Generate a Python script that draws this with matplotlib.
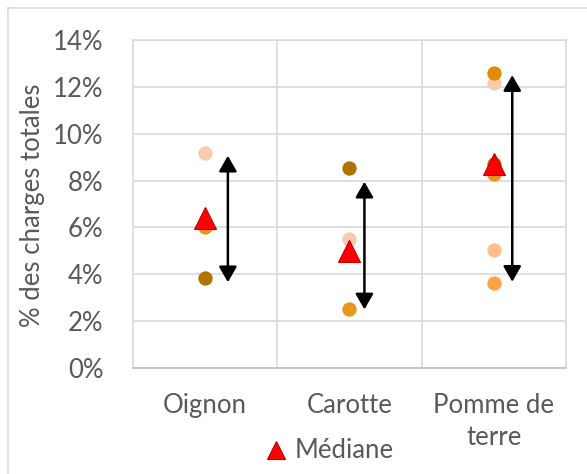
import matplotlib
matplotlib.use("Agg")
import matplotlib.pyplot as plt
from matplotlib.lines import Line2D
import numpy as np

plt.rcParams['font.family'] = ['Lato', 'DejaVu Sans']

# ---- data ----
categories = ["Oignon", "Carotte", "Pomme de\nterre"]
series_light_peach = [9.16, 5.49, 12.15]
series_orange = [6.0, 2.5, 8.28]
series_brown = [3.83, 8.52, 8.70]
series_pomme_dark_orange = [None, None, 12.58]
series_pomme_light_orange = [None, None, 5.04]
series_pomme_orange = [None, None, 3.62]
median_values = [6.42, 5.01, 8.70]
arrow_top = [9.06, 7.95, 12.50]
arrow_bottom = [3.66, 2.50, 3.68]
y_ticks = [0, 2, 4, 6, 8, 10, 12, 14]
y_tick_labels = ["0%", "2%", "4%", "6%", "8%", "10%", "12%", "14%"]
y_label = "% des charges totales"
legend_label = "Médiane"

W, H = 587, 474
FS = 18.5
fig = plt.figure(figsize=(W / 100, H / 100), dpi=100)
ax = fig.add_axes([132.5 / W, (H - 368) / H, (566 - 132.5) / W, (368 - 40) / H])

xpos = np.arange(len(categories)) + 0.5
arrow_offsets = [0.16, 0.105, 0.128]

series = [
    (series_light_peach, "#F8CBAD"),
    (series_orange, "#E8961C"),
    (series_brown, "#B37100"),
    (series_pomme_dark_orange, "#E08C00"),
    (series_pomme_light_orange, "#FFBF8C"),
    (series_pomme_orange, "#FFA343"),
]
order = [2, 0, 1, 3, 4, 5]
for idx in order:
    vals, col = series[idx]
    xs = [x for x, v in zip(xpos, vals) if v is not None]
    ys = [v for v in vals if v is not None]
    ax.plot(xs, ys, linestyle="none", marker="o", markersize=10.3,
            markerfacecolor=col, markeredgecolor=col, markeredgewidth=0, zorder=3)

ax.plot(xpos, median_values, linestyle="none", marker="^", markersize=16.5,
        markerfacecolor="#FF0000", markeredgecolor="#C00000", markeredgewidth=0.8, zorder=5)

for x, off, top, bot in zip(xpos, arrow_offsets, arrow_top, arrow_bottom):
    ax.annotate("", xy=(x + off, top), xytext=(x + off, bot),
                arrowprops=dict(arrowstyle="<|-|>,head_length=0.47,head_width=0.27",
                                color="black", lw=1.8, shrinkA=0, shrinkB=0,
                                mutation_scale=20), zorder=6)

ax.set_xlim(0, 3)
ax.set_ylim(0, 14)
ax.set_yticks(y_ticks)
ax.set_yticklabels(y_tick_labels)
ax.set_xticks(xpos)
ax.set_xticklabels(categories, linespacing=1.35)
ax.set_xticks([1, 2], minor=True)
ax.tick_params(axis="both", which="both", length=0, colors="#595959", labelsize=FS)
ax.tick_params(axis="y", pad=21)
ax.tick_params(axis="x", pad=18)
ax.grid(True, axis="y", which="major", color="#D9D9D9", lw=1.2, zorder=0)
ax.grid(True, axis="x", which="minor", color="#D9D9D9", lw=1.2, zorder=0)
ax.grid(False, axis="x", which="major")
for s in ["left", "right", "top"]:
    ax.spines[s].set_color("#D9D9D9")
    ax.spines[s].set_linewidth(1.2)
ax.spines["bottom"].set_color("#BFBFBF")
ax.spines["bottom"].set_linewidth(1.2)
ax.set_axisbelow(True)

fig.text(33 / W, 1 - 205 / H, y_label, rotation=90, ha="center", va="center",
         fontsize=FS, color="#595959")

handle = Line2D([], [], linestyle="none", marker="^", markersize=12.5,
                markerfacecolor="#FF0000", markeredgecolor="#C00000", markeredgewidth=0.8)
fig.legend([handle], [legend_label], loc="center", bbox_to_anchor=(329 / W, 1 - 451 / H),
           frameon=False, fontsize=FS, labelcolor="#595959", handlelength=0.9,
           handletextpad=0.3, borderpad=0)

# chart frame
fig.add_artist(Line2D([7.5 / W, 7.5 / W], [0, 1 - 7.5 / H], color="#D9D9D9", lw=1.2))
fig.add_artist(Line2D([7.5 / W, 1], [1 - 7.5 / H, 1 - 7.5 / H], color="#D9D9D9", lw=1.2))

fig.savefig("out.png", dpi=100, facecolor="white")
